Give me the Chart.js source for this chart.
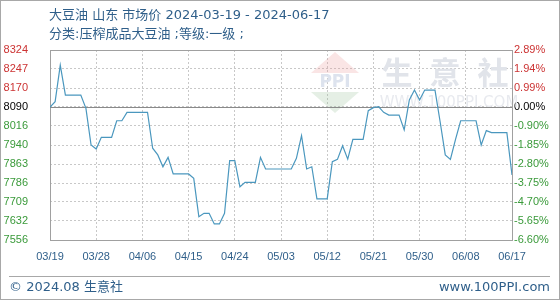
<!DOCTYPE html>
<html>
<head>
<meta charset="utf-8">
<script src="https://cdn.jsdelivr.net/npm/chart.js@4.4.1/dist/chart.umd.min.js"></script>
<style>
  html, body { margin: 0; padding: 0; background: #fff; }
  #wrap { position: relative; width: 560px; height: 300px; overflow: hidden;
          font-family: "DejaVu Sans", "Noto Sans CJK SC", sans-serif; color: #2f5f8a; }
  #chart { position: absolute; left: 0; top: 0; }
  #frame { position: absolute; left: 0; top: 0; width: 560px; height: 300px;
           box-sizing: border-box; border: 1px solid #a8a8a8; pointer-events: none; }
  .t { position: absolute; white-space: nowrap; font-size: 13px; line-height: 16px; }
  #title { left: 49px; top: 7px; }
  #sub { left: 49px; top: 26px; }
  #sep { position: absolute; left: 9px; width: 541px; top: 276px; border-top: 1px solid #a8a8a8; }
  #copy { left: 9px; top: 279px; }
  #site { right: 10px; top: 279px; }
</style>
</head>
<body>
<div id="wrap">
  <canvas id="chart" width="560" height="300"></canvas>
  <div class="t" id="title">大豆油 山东 市场价 2024-03-19 - 2024-06-17</div>
  <div class="t" id="sub">分类:压榨成品大豆油 ;等级:一级 ;</div>
  <div id="sep"></div>
  <div class="t" id="copy">© 2024.08 生意社</div>
  <div class="t" id="site">www.100PPI.com</div>
  <div id="frame"></div>
</div>
<script>
// x轴标签（每9天一个）
const xLabels = ['03/19', '03/28', '04/06', '04/15', '04/24', '05/03', '05/12', '05/21', '05/30', '06/08', '06/17'];

// 距 03/19 的天数
const days = [0, 1, 2, 3, 6, 7, 8, 9, 10, 12, 13, 14, 15, 19, 20, 21, 22, 23, 24, 27,
              28, 29, 30, 31, 32, 33, 34, 35, 36, 37, 38, 40, 41, 42, 47, 48, 49, 50, 51, 52,
              54, 55, 56, 57, 58, 59, 61, 62, 63, 64, 65, 66, 68, 69, 70, 71, 72, 73, 75, 76,
              77, 78, 79, 80, 83, 84, 85, 86, 89, 90];

// 市场价 元/吨
const prices = [8093, 8115, 8263, 8142, 8142, 8088, 7940, 7924, 7971, 7971, 8038, 8038, 8072, 8072, 7927, 7900, 7852, 7890, 7823, 7823,
                7805, 7650, 7664, 7664, 7621, 7621, 7664, 7877, 7877, 7771, 7789, 7789, 7890, 7843, 7843, 7886, 7978, 7843, 7852, 7722,
                7722, 7873, 7882, 7937, 7883, 7963, 7963, 8079, 8091, 8095, 8072, 8061, 8061, 8001, 8122, 8162, 8122, 8162, 8162, 8034,
                7900, 7882, 7963, 8038, 8038, 7940, 7998, 7990, 7990, 7819];

// 左右刻度（从下到上）
const priceTicks = ['7556', '7632', '7709', '7786', '7863', '7940', '8016', '8090', '8170', '8247', '8324'];
const pctTicks = ['-6.60%', '-5.65%', '-4.70%', '-3.75%', '-2.80%', '-1.85%', '-0.90%', '0.00%', '0.99%', '1.94%', '2.89%'];

const yMin = 7556, yMax = 8324, baseIndex = 7;
const tickFont = { family: 'Liberation Sans, Arial, sans-serif', size: 11 };

function tickColor(ctx) {
    if (ctx.index > baseIndex) return '#cc3333';
    if (ctx.index < baseIndex) return '#3a9a3a';
    return '#000000';
}
function evenTicks(scale) {
    scale.ticks = priceTicks.map((_, i) => ({ value: yMin + i * (yMax - yMin) / (priceTicks.length - 1) }));
}

// 边框、基准线和水印
const decor = {
    id: 'decor',
    beforeDatasetsDraw(chart) {
        const c = chart.ctx, a = chart.chartArea;
        c.save();
        // 水印
        c.fillStyle = 'rgba(235,150,150,0.25)';
        c.beginPath(); c.moveTo(335, 52); c.lineTo(311, 73); c.lineTo(359, 73); c.closePath(); c.fill();
        c.fillStyle = 'rgba(150,190,150,0.25)';
        c.beginPath(); c.moveTo(311, 92); c.lineTo(359, 92); c.lineTo(335, 113); c.closePath(); c.fill();
        c.fillStyle = '#dde3ee';
        c.font = 'bold 17px DejaVu Sans';
        c.textAlign = 'center'; c.textBaseline = 'middle';
        c.fillText('PPI', 335, 83);
        c.fillStyle = '#e1e4ea';
        c.font = 'bold 31px "Noto Sans CJK SC"';
        c.fillText('生', 397, 72); c.fillText('意', 445, 72); c.fillText('社', 493, 72);
        c.fillStyle = '#e8eaef';
        c.font = '15px DejaVu Sans';
        c.fillText('WWW.100PPI.COM', 449, 103);
        // 外框
        c.strokeStyle = '#a0a0a0';
        c.lineWidth = 1;
        c.strokeRect(Math.round(a.left) + 0.5, Math.round(a.top) + 0.5, Math.round(a.width), Math.round(a.height));
        // 基准线
        const y = Math.round(chart.scales.y.getPixelForValue(chart.scales.y.ticks[baseIndex].value)) + 0.5;
        c.strokeStyle = '#8a8a8a';
        c.beginPath(); c.moveTo(a.left, y); c.lineTo(a.right, y); c.stroke();
        c.restore();
    }
};

new Chart(document.getElementById('chart'), {
    type: 'line',
    data: {
        datasets: [{
            data: days.map((d, i) => ({ x: d, y: prices[i] })),
            borderColor: '#4a97be',
            borderWidth: 1.2,
            pointRadius: 0,
            tension: 0,
            fill: false
        }]
    },
    options: {
        responsive: false,
        animation: false,
        layout: { padding: { top: 50, bottom: 25, left: 0, right: 0 } },
        plugins: { legend: { display: false }, tooltip: { enabled: false } },
        scales: {
            x: {
                type: 'linear',
                min: 0,
                max: 90,
                afterBuildTicks: (s) => { s.ticks = xLabels.map((_, i) => ({ value: i * 9 })); },
                afterFit: (s) => { s.height = 35; },
                ticks: {
                    autoSkip: false, maxRotation: 0, padding: 10,
                    color: '#2f5f8a', font: tickFont,
                    callback: (v, i) => xLabels[i]
                },
                grid: { color: '#c8c8c8', drawTicks: false },
                border: { display: false, dash: [2, 2] }
            },
            y: {
                position: 'left',
                min: yMin,
                max: yMax,
                afterBuildTicks: evenTicks,
                afterFit: (s) => { s.width = 50; },
                ticks: { padding: 22, color: tickColor, font: tickFont, callback: (v, i) => priceTicks[i] },
                grid: { color: '#c8c8c8', drawTicks: false },
                border: { display: false, dash: [2, 2] }
            },
            y2: {
                position: 'right',
                min: yMin,
                max: yMax,
                afterBuildTicks: evenTicks,
                afterFit: (s) => { s.width = 48; },
                ticks: { padding: 2, color: tickColor, font: tickFont, callback: (v, i) => pctTicks[i] },
                grid: { display: false, drawTicks: false },
                border: { display: false }
            }
        }
    },
    plugins: [decor]
});
</script>
</body>
</html>
